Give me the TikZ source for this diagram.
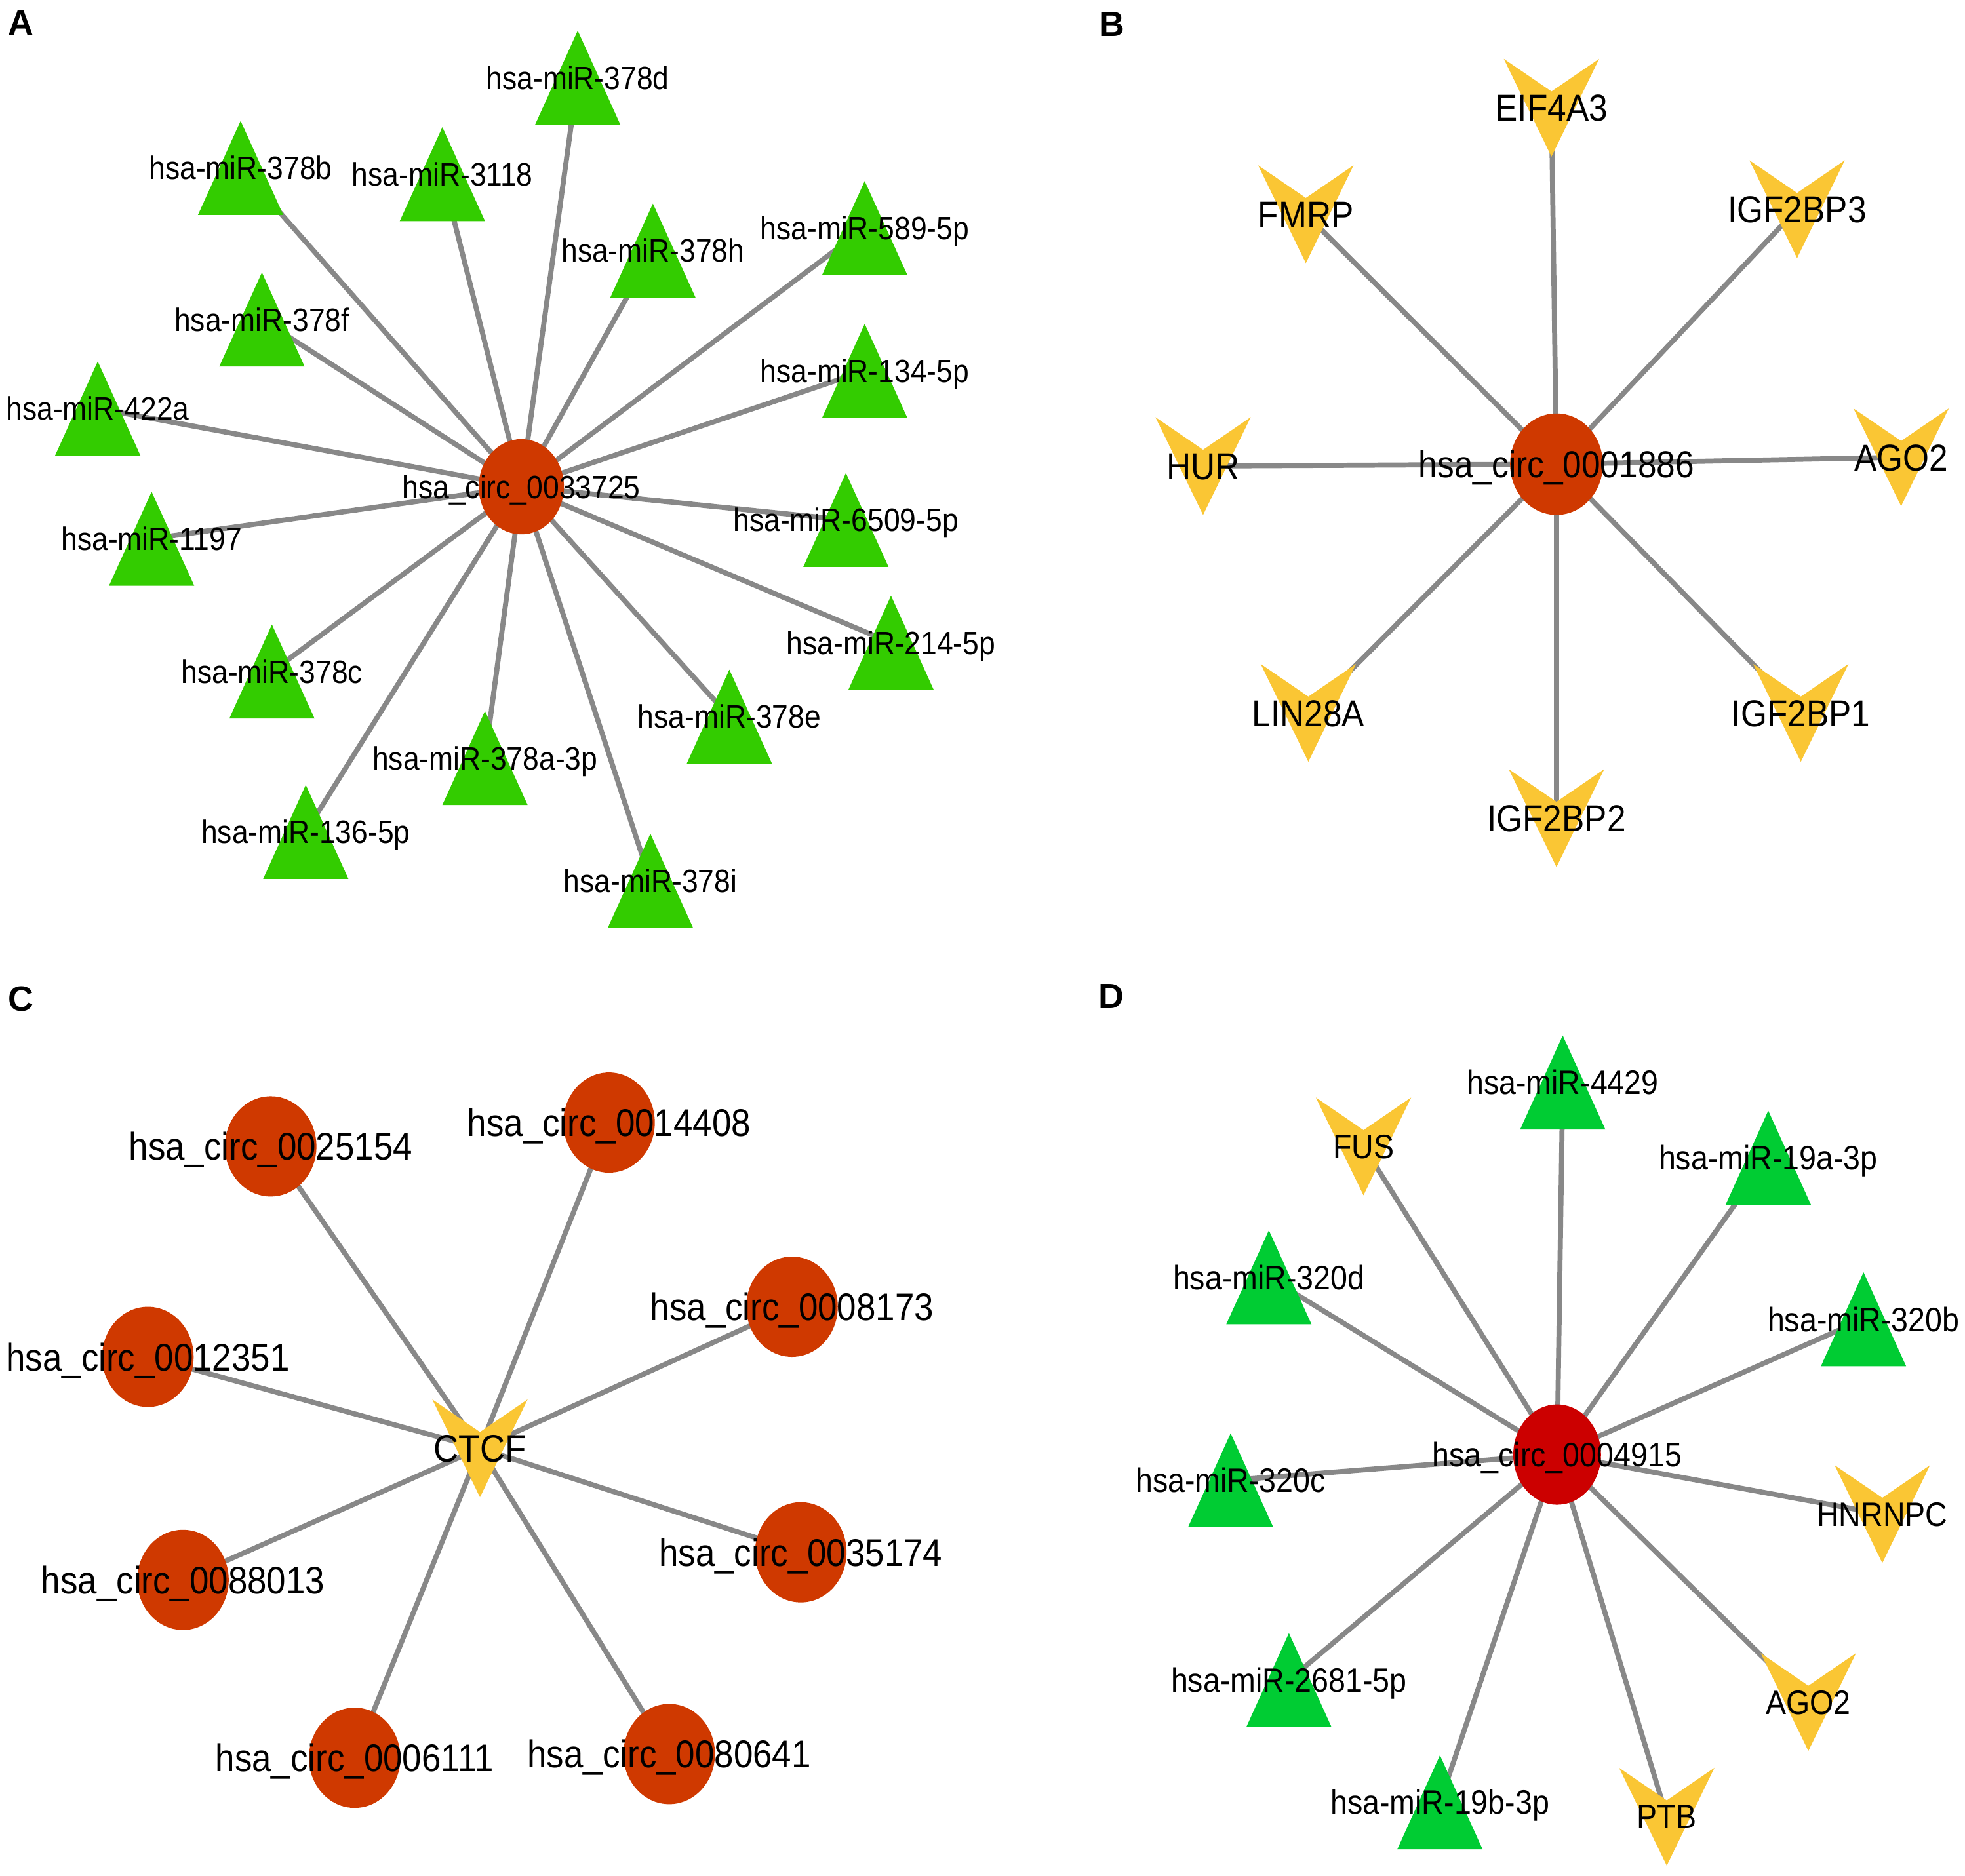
\documentclass[tikz,border=0pt]{standalone}
\usepackage{fontspec}
\setmainfont{Liberation Sans}
\newfontfamily\labfont[FakeStretch=0.9]{Liberation Sans}
\definecolor{edgec}{RGB}{136,136,136}
\definecolor{circA}{RGB}{207,57,0}
\definecolor{circD}{RGB}{204,0,0}
\definecolor{triA}{RGB}{51,204,0}
\definecolor{triD}{RGB}{0,204,51}
\definecolor{veec}{RGB}{250,198,52}
\pgfdeclarelayer{bg}
\pgfdeclarelayer{edges}
\pgfdeclarelayer{shapes}
\pgfsetlayers{bg,edges,shapes,main}
\tikzset{
  edge/.style={draw=edgec, line width=2.3pt},
  lab/.style={inner sep=0pt, text=black},
  labA/.style={lab, text height=10.5pt, text depth=0pt, font=\labfont\fontsize{14.7}{16}\selectfont},
  labB/.style={lab, text height=12.2pt, text depth=0pt, font=\labfont\fontsize{17}{19}\selectfont},
  labC/.style={lab, text height=12.5pt, text depth=0pt, font=\labfont\fontsize{17.5}{19}\selectfont},
  labD/.style={lab, text height=11pt, text depth=0pt, font=\labfont\fontsize{15.4}{17}\selectfont},
  letter/.style={inner sep=0pt, anchor=west, text height=11.5pt, text depth=0pt, font=\bfseries\fontsize{16}{18}\selectfont},
  trishape/.pic={\fill[#1] (0,-37.5) -- (34,37.5) -- (-34,37.5) -- cycle;},
  veeshape/.pic={\fill[veec] (-38,-39) -- (0,-13) -- (38,-39) -- (0,39) -- cycle;},
}
\begin{document}
\begin{tikzpicture}[x=0.02cm, y=-0.02cm]
\useasboundingbox (0,0) rectangle (1568,1497);
\begin{pgfonlayer}{bg}
\fill[white] (0,0) rectangle (1568,1497);
\end{pgfonlayer}

% panel letters
\node[letter] (LA) at (6,18) {A};
\node[letter] (LB) at (877,19) {B};
\node[letter] (LC) at (6,797) {C};
\node[letter] (LD) at (876,795) {D};

% ---------------- Panel A ----------------
\node[labA] (a0) at (416,388.5) {hsa\_circ\_0033725};
\node[labA] (a1) at (461,62) {hsa-miR-378d};
\node[labA] (a2) at (192,134) {hsa-miR-378b};
\node[labA] (a3) at (353,139) {hsa-miR-3118};
\node[labA] (a4) at (521,200) {hsa-miR-378h};
\node[labA] (a5) at (690,182) {hsa-miR-589-5p};
\node[labA] (a6) at (209,255) {hsa-miR-378f};
\node[labA] (a7) at (690,296) {hsa-miR-134-5p};
\node[labA] (a8) at (78,326) {hsa-miR-422a};
\node[labA] (a9) at (121,430) {hsa-miR-1197};
\node[labA] (a10) at (675,415) {hsa-miR-6509-5p};
\node[labA] (a11) at (711,513) {hsa-miR-214-5p};
\node[labA] (a12) at (217,536) {hsa-miR-378c};
\node[labA] (a13) at (582,572) {hsa-miR-378e};
\node[labA] (a14) at (387,605) {hsa-miR-378a-3p};
\node[labA] (a15) at (244,664) {hsa-miR-136-5p};
\node[labA] (a16) at (519,703) {hsa-miR-378i};

% ---------------- Panel B ----------------
\node[labB] (b0) at (1242,370.5) {hsa\_circ\_0001886};
\node[labB] (b1) at (1238,86) {EIF4A3};
\node[labB] (b2) at (1042,171) {FMRP};
\node[labB] (b3) at (1434,167) {IGF2BP3};
\node[labB] (b4) at (960,372) {HUR};
\node[labB] (b5) at (1517,365) {AGO2};
\node[labB] (b6) at (1044,569) {LIN28A};
\node[labB] (b7) at (1437,569) {IGF2BP1};
\node[labB] (b8) at (1242,653) {IGF2BP2};

% ---------------- Panel C ----------------
\node[labC] (c0) at (383,1156) {CTCF};
\node[labC] (c1) at (216,915) {hsa\_circ\_0025154};
\node[labC] (c2) at (486,896) {hsa\_circ\_0014408};
\node[labC] (c3) at (632,1043) {hsa\_circ\_0008173};
\node[labC] (c4) at (118,1083) {hsa\_circ\_0012351};
\node[labC] (c5) at (639,1239) {hsa\_circ\_0035174};
\node[labC] (c6) at (146,1261) {hsa\_circ\_0088013};
\node[labC] (c7) at (283,1403) {hsa\_circ\_0006111};
\node[labC] (c8) at (534,1400) {hsa\_circ\_0080641};

% ---------------- Panel D ----------------
\node[labD] (d0) at (1242.5,1161) {hsa\_circ\_0004915};
\node[labD] (d1) at (1247,864) {hsa-miR-4429};
\node[labD] (d2) at (1088,915) {FUS};
\node[labD] (d3) at (1411,924) {hsa-miR-19a-3p};
\node[labD] (d4) at (1012.5,1019.5) {hsa-miR-320d};
\node[labD] (d5) at (1487,1053) {hsa-miR-320b};
\node[labD] (d6) at (982,1181.5) {hsa-miR-320c};
\node[labD] (d7) at (1502,1208.5) {HNRNPC};
\node[labD] (d8) at (1028.5,1341) {hsa-miR-2681-5p};
\node[labD] (d9) at (1443,1358.5) {AGO2};
\node[labD] (d10) at (1330,1450) {PTB};
\node[labD] (d11) at (1149,1438.5) {hsa-miR-19b-3p};

% ---------------- edges ----------------
\begin{pgfonlayer}{edges}
\foreach \n in {1,...,16} \draw[edge] (a0.center) -- (a\n.center);
\foreach \n in {1,...,8} \draw[edge] (b0.center) -- (b\n.center);
\foreach \n in {1,...,8} \draw[edge] (c0.center) -- (c\n.center);
\foreach \n in {1,...,11} \draw[edge] (d0.center) -- (d\n.center);
\end{pgfonlayer}

% ---------------- shapes ----------------
\begin{pgfonlayer}{shapes}
\fill[circA] (a0.center) ellipse [x radius=34, y radius=38];
\foreach \n in {1,...,16} \pic at (a\n.center) {trishape=triA};
\fill[circA] (b0.center) ellipse [x radius=37, y radius=40.5];
\foreach \n in {1,...,8} \pic at (b\n.center) {veeshape};
\pic at (c0.center) {veeshape};
\foreach \n in {1,...,8} \fill[circA] (c\n.center) ellipse [x radius=36.5, y radius=40];
\fill[circD] (d0.center) ellipse [x radius=35, y radius=40];
\foreach \n in {1,3,4,5,6,8,11} \pic at (d\n.center) {trishape=triD};
\foreach \n in {2,7,9,10} \pic at (d\n.center) {veeshape};
\end{pgfonlayer}
\end{tikzpicture}
\end{document}
